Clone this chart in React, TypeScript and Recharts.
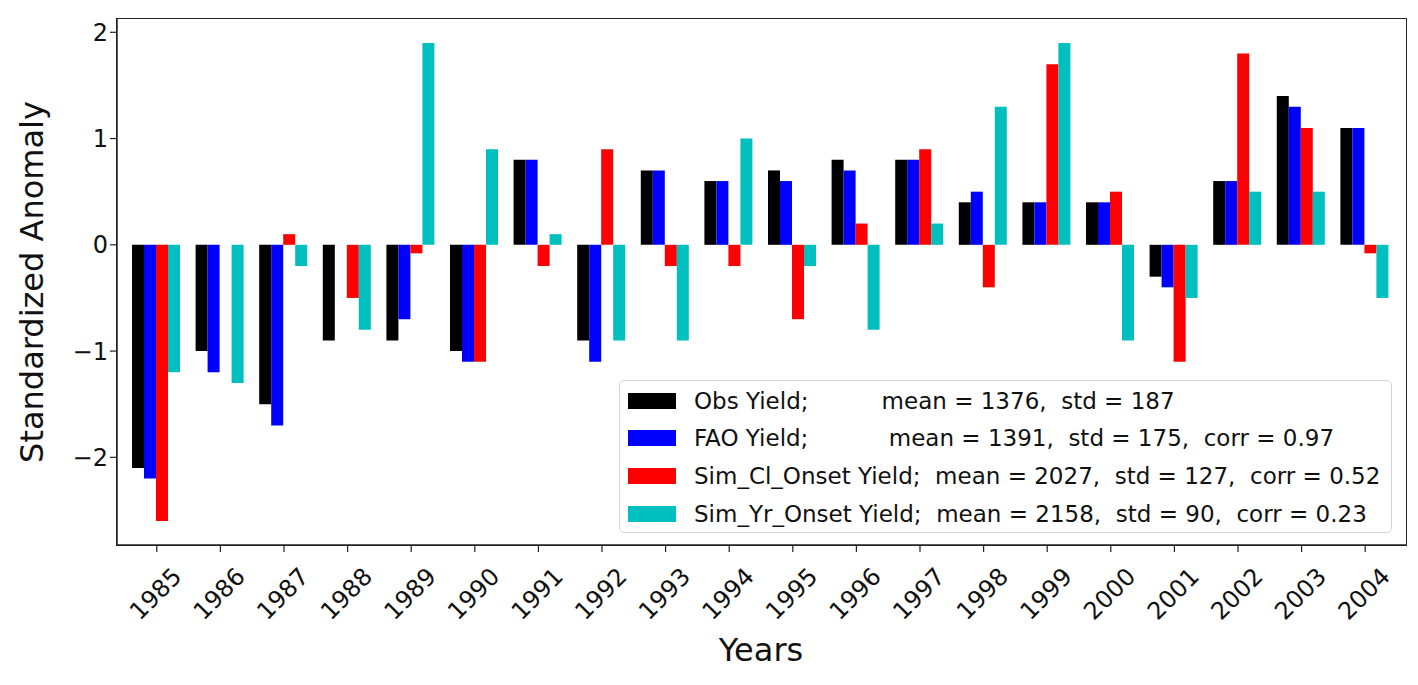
import React from 'react';
import { BarChart, Bar, XAxis, YAxis, Legend } from 'recharts';

const years = [
  '1985', '1986', '1987', '1988', '1989', '1990', '1991', '1992', '1993', '1994',
  '1995', '1996', '1997', '1998', '1999', '2000', '2001', '2002', '2003', '2004',
];
const obsYield = [-2.1, -1.0, -1.5, -0.9, -0.9, -1.0, 0.8, -0.9, 0.7, 0.6, 0.7, 0.8, 0.8, 0.4, 0.4, 0.4, -0.3, 0.6, 1.4, 1.1];
const faoYield = [-2.2, -1.2, -1.7, 0, -0.7, -1.1, 0.8, -1.1, 0.7, 0.6, 0.6, 0.7, 0.8, 0.5, 0.4, 0.4, -0.4, 0.6, 1.3, 1.1];
const simClOnset = [-2.6, 0, 0.1, -0.5, -0.08, -1.1, -0.2, 0.9, -0.2, -0.2, -0.7, 0.2, 0.9, -0.4, 1.7, 0.5, -1.1, 1.8, 1.1, -0.08];
const simYrOnset = [-1.2, -1.3, -0.2, -0.8, 1.9, 0.9, 0.1, -0.9, -0.9, 1.0, -0.2, -0.8, 0.2, 1.3, 1.9, -0.9, -0.5, 0.5, 0.5, -0.5];

const yTicks = [-2, -1, 0, 1, 2];

// legend labels, padded with spaces the way the original was
const seriesNames = [
  'Obs Yield;          mean = 1376,  std = 187',
  'FAO Yield;           mean = 1391,  std = 175,  corr = 0.97',
  'Sim_Cl_Onset Yield;  mean = 2027,  std = 127,  corr = 0.52',
  'Sim_Yr_Onset Yield;  mean = 2158,  std = 90,  corr = 0.23',
];
const seriesKeys = ['obs', 'fao', 'simCl', 'simYr'];
const seriesColors = ['#000000', '#0000ff', '#ff0000', '#00bfbf'];

const data = years.map((year, i) => ({
  year,
  obs: obsYield[i],
  fao: faoYield[i],
  simCl: simClOnset[i],
  simYr: simYrOnset[i],
}));

const FONT = '"DejaVu Sans", Verdana, sans-serif';
const AXIS_COLOR = '#222';

function YearTick({ x, y, payload }: any) {
  return (
    <g transform={`translate(${x - 1},${y + 40})`}>
      <text
        transform="rotate(-45)"
        textAnchor="middle"
        dominantBaseline="central"
        fontSize={24}
        fontFamily={FONT}
        fill="#111"
      >
        {payload.value}
      </text>
    </g>
  );
}

function LegendBox({ payload }: any) {
  // keep the series order instead of the alphabetical one
  const items = [...(payload || [])].sort(
    (a: any, b: any) => seriesNames.indexOf(a.value) - seriesNames.indexOf(b.value)
  );
  return (
    <div
      style={{
        width: 773,
        height: 153,
        boxSizing: 'border-box',
        border: '1px solid #d4d4d4',
        borderRadius: 5,
        background: 'rgba(255,255,255,0.85)',
        padding: '1px 0 0 8px',
        fontFamily: FONT,
        fontSize: 23,
        color: '#111',
      }}
    >
      {items.map((entry: any) => (
        <div key={entry.value} style={{ display: 'flex', alignItems: 'center', height: 37.6 }}>
          <span style={{ width: 48, height: 16, background: entry.color, marginRight: 18, flex: 'none' }} />
          <span style={{ whiteSpace: 'pre' }}>{entry.value}</span>
        </div>
      ))}
    </div>
  );
}

export default function App() {
  return (
    <div style={{ position: 'absolute', left: 0, top: 0, width: 1418, height: 685, background: '#fff' }}>
      <BarChart
        width={1418}
        height={685}
        data={data}
        margin={{ top: 19, right: 12, bottom: 60, left: 47 }}
        barCategoryGap={7}
        barGap={0}
      >
        <XAxis
          dataKey="year"
          height={80}
          padding={{ left: 8, right: 9 }}
          tick={<YearTick />}
          tickSize={7}
          tickMargin={2}
          interval={0}
          axisLine={{ stroke: AXIS_COLOR, strokeWidth: 1.5 }}
          tickLine={{ stroke: AXIS_COLOR, strokeWidth: 1.2 }}
        />
        <YAxis
          width={70}
          domain={[-2.825, 2.125]}
          ticks={yTicks}
          allowDataOverflow
          tickSize={7}
          tickMargin={2}
          tickFormatter={(v: number) => String(v).replace('-', '\u2212')}
          tick={{ fontSize: 24, fontFamily: FONT, fill: '#111' }}
          axisLine={{ stroke: AXIS_COLOR, strokeWidth: 1.5 }}
          tickLine={{ stroke: AXIS_COLOR, strokeWidth: 1.2 }}
        />
        {seriesKeys.map((key, i) => (
          <Bar
            key={key}
            dataKey={key}
            name={seriesNames[i]}
            fill={seriesColors[i]}
            isAnimationActive={false}
          />
        ))}
        <Legend
          layout="horizontal"
          verticalAlign="middle"
          content={<LegendBox />}
          wrapperStyle={{ position: 'absolute', left: 619, top: 380, width: 773 }}
        />
      </BarChart>
      {/* axes frame around the plot area */}
      <div
        style={{
          position: 'absolute',
          left: 116,
          top: 18,
          width: 1291,
          height: 528,
          boxSizing: 'border-box',
          border: `1.5px solid ${AXIS_COLOR}`,
          pointerEvents: 'none',
        }}
      />
      <div
        style={{
          position: 'absolute',
          left: 32,
          top: 282,
          transform: 'translate(-50%, -50%) rotate(-90deg)',
          whiteSpace: 'nowrap',
          fontFamily: FONT,
          fontSize: 32,
          color: '#111',
        }}
      >
        Standardized Anomaly
      </div>
      <div
        style={{
          position: 'absolute',
          left: 761,
          top: 650,
          transform: 'translate(-50%, -50%)',
          whiteSpace: 'nowrap',
          fontFamily: FONT,
          fontSize: 32,
          color: '#111',
        }}
      >
        Years
      </div>
    </div>
  );
}
